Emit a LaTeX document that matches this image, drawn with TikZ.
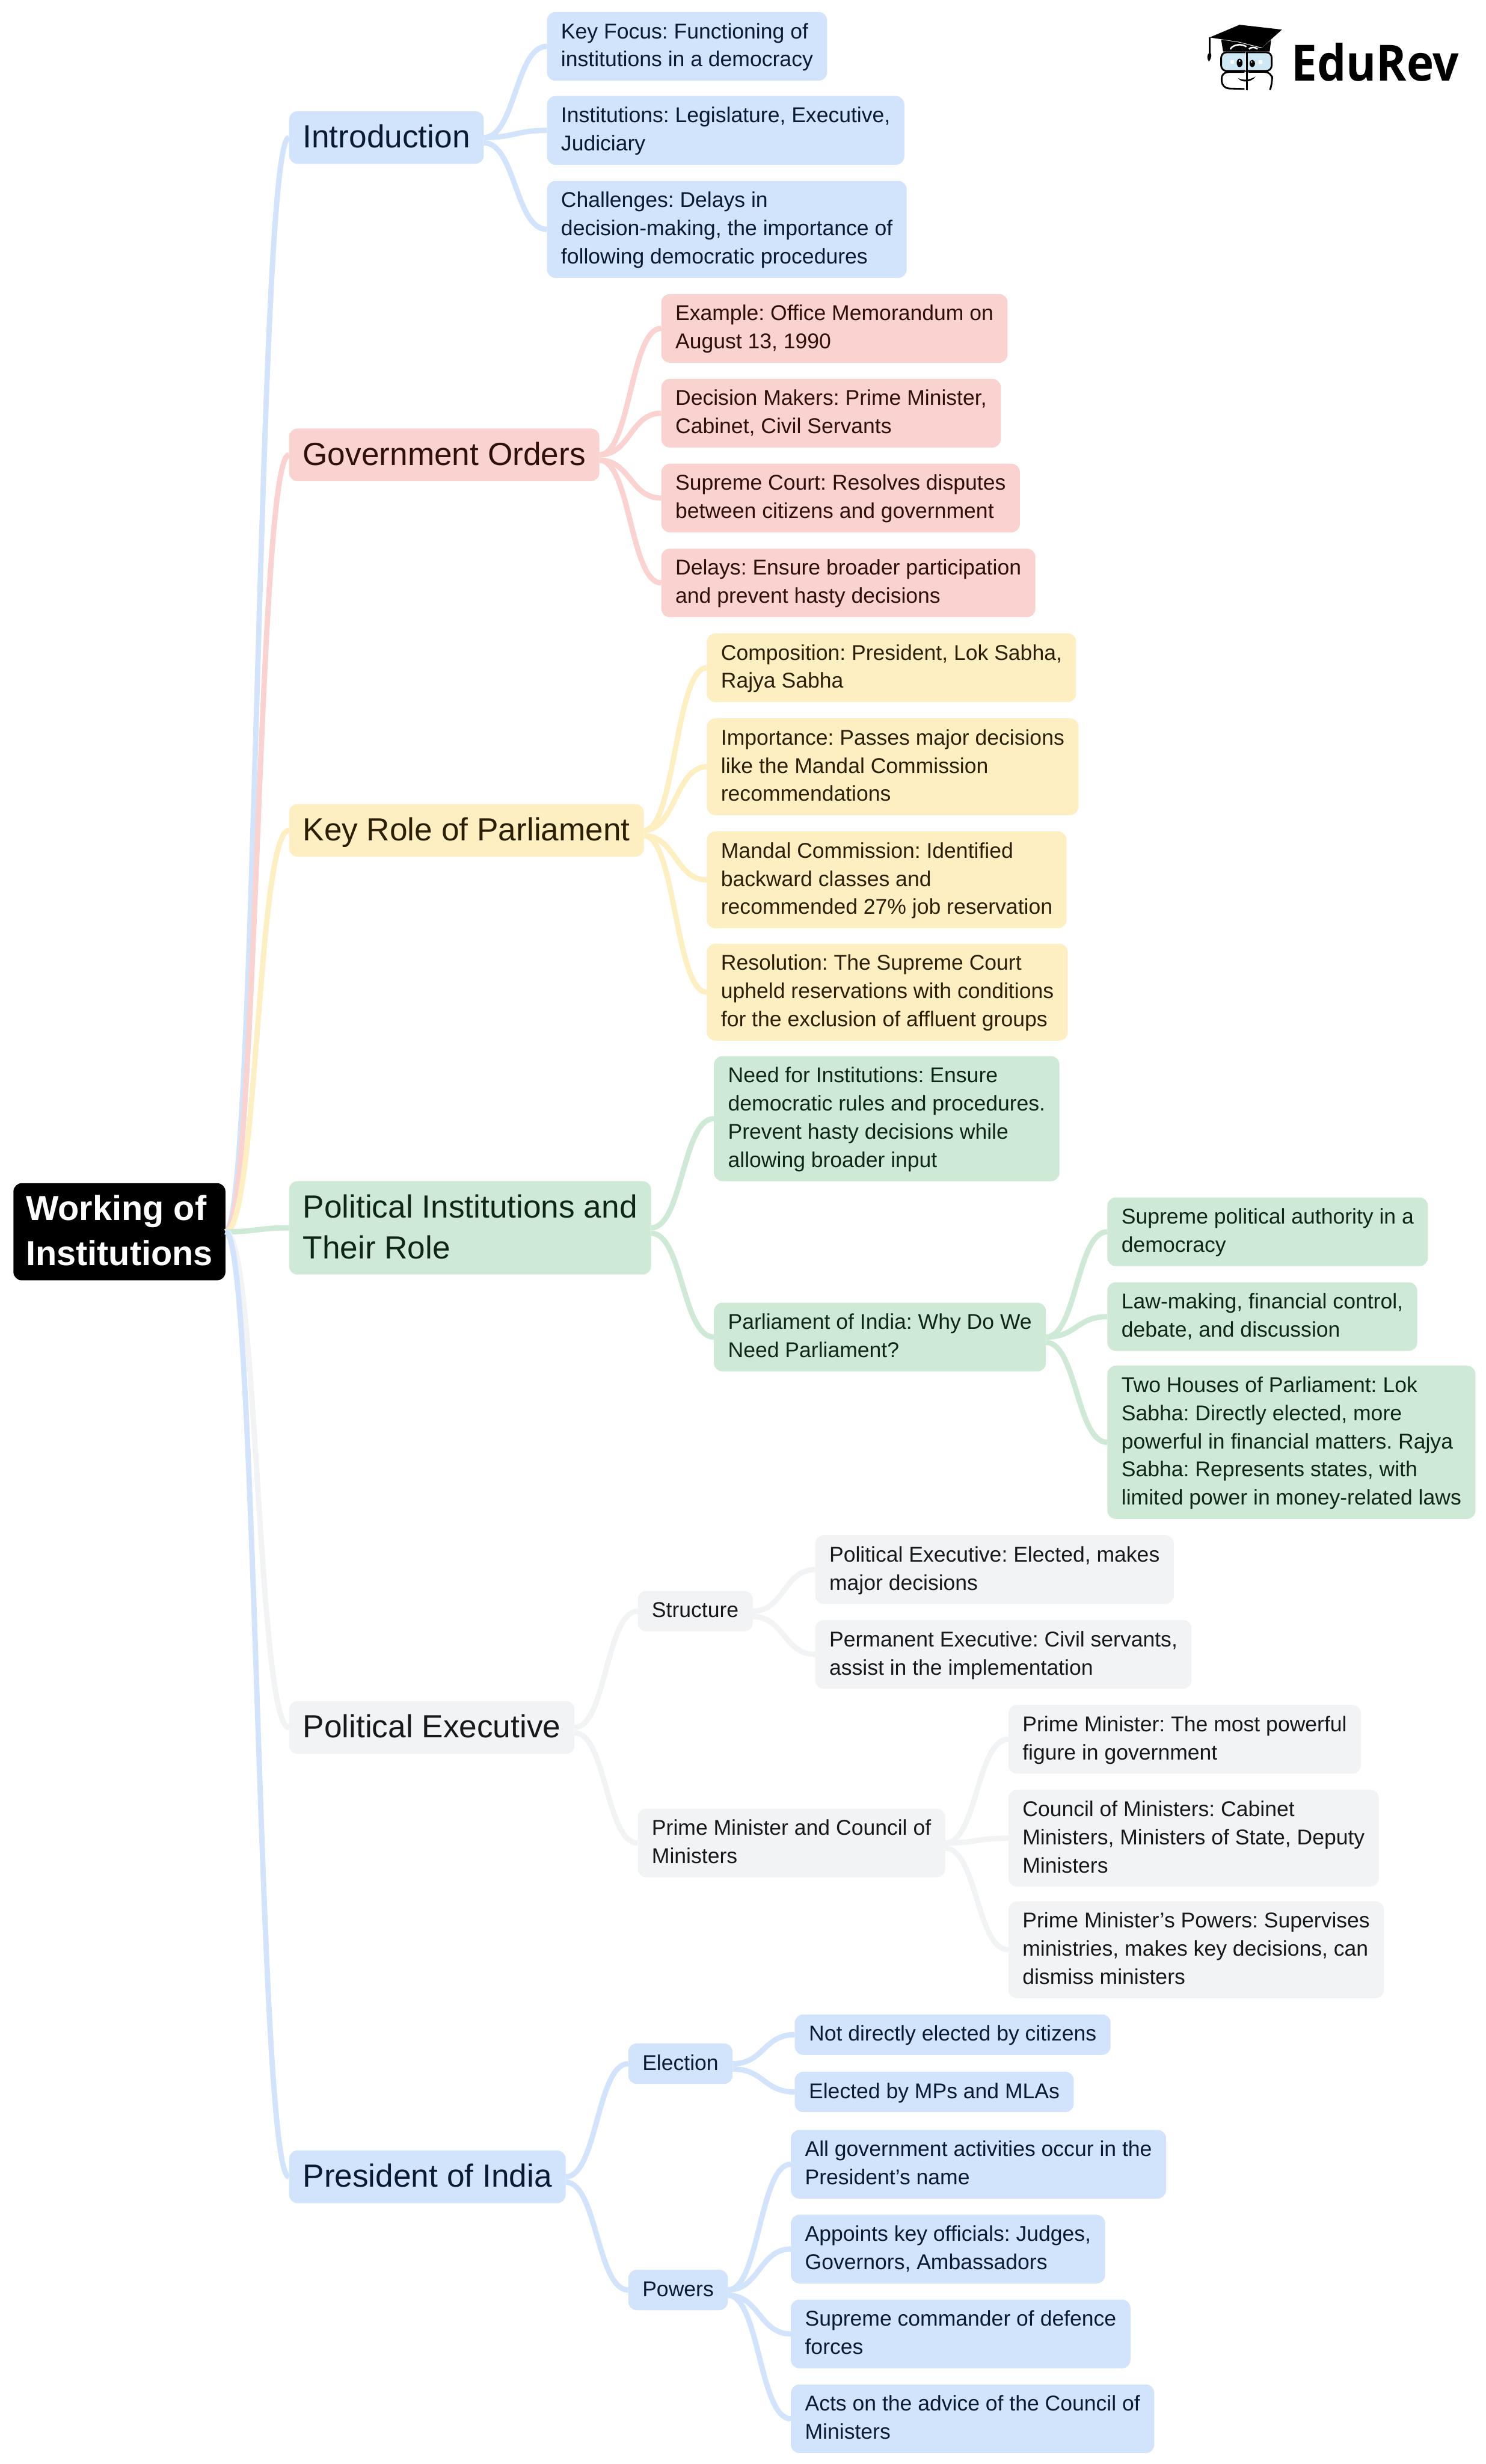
\documentclass[tikz,border=0pt]{standalone}
\usepackage{fontspec}
\setmainfont{Liberation Sans}
\newfontfamily\logofont{Open Sans}
\usetikzlibrary{calc}
\AtBeginDocument{\frenchspacing}
\definecolor{bluefill}{HTML}{D2E3FC}
\definecolor{bluetext}{HTML}{0A1A33}
\definecolor{redfill}{HTML}{FAD2CF}
\definecolor{redtext}{HTML}{2D0F0C}
\definecolor{yelfill}{HTML}{FEEFC3}
\definecolor{yeltext}{HTML}{2B1F03}
\definecolor{grnfill}{HTML}{CEEAD6}
\definecolor{grntext}{HTML}{0D2615}
\definecolor{gryfill}{HTML}{F1F3F4}
\definecolor{grytext}{HTML}{17181A}
\definecolor{lenscol}{HTML}{CFE8F5}
% line struts: they fix the height of the first and last line of a box
\newcommand{\SL}{\vrule height 53.5pt depth 20.5pt width 0pt\relax}
\newcommand{\ST}{\vrule height 80.5pt depth 26.5pt width 0pt\relax}
\newcommand{\SR}{\vrule height 88pt depth 30pt width 0pt\relax}
\tikzset{
  basebox/.style={rectangle,rounded corners=22pt,align=left,anchor=west},
  leaf/.style={basebox,inner xsep=37pt,inner ysep=16pt,font=\fontsize{56.1}{74}\selectfont},
  topic/.style={basebox,inner xsep=36pt,inner ysep=15.5pt,font=\fontsize{84}{107}\selectfont},
  rootbox/.style={basebox,fill=black,text=white,inner xsep=33pt,inner ysep=9.5pt,font=\fontsize{91}{118}\selectfont\bfseries},
  bl/.style={fill=bluefill,text=bluetext},
  rd/.style={fill=redfill,text=redtext},
  yl/.style={fill=yelfill,text=yeltext},
  gn/.style={fill=grnfill,text=grntext},
  gy/.style={fill=gryfill,text=grytext},
  link/.style={line width=14pt}
}
\newcommand{\conn}[3]{\draw[link,#1] let \p1=(#2.east),\p2=(#3.west),\n1={(\x1+\x2)/2} in (\p1) .. controls (\n1,\y1) and (\n1,\y2) .. (\p2);}
% a branch to a child below its parent leaves the parent one line width lower
\newcommand{\connD}[3]{\draw[link,#1] let \p1=([yshift=-14pt]#2.east),\p2=(#3.west),\n1={(\x1+\x2)/2} in (\p1) .. controls (\n1,\y1) and (\n1,\y2) .. (\p2);}
\begin{document}
\begin{tikzpicture}[x=4.12156pt,y=-4.12156pt]
\fill[white] (0,0) rectangle (946,1568.3);
\useasboundingbox (0,0) rectangle (946,1568.3);

\node[rootbox] (root) at (8.5,784) {\SR Working of\\Institutions\SR};

\node[topic,bl] (intro) at (184,87.5) {\ST Introduction\ST};
\node[topic,rd] (gov) at (184,289.5) {\ST Government Orders\ST};
\node[topic,yl] (parl) at (184,528.5) {\ST Key Role of Parliament\ST};
\node[topic,gn] (pol) at (184,781.5) {\ST Political Institutions and\\Their Role\ST};
\node[topic,gy] (exec) at (184,1099.5) {\ST Political Executive\ST};
\node[topic,bl] (pres) at (184,1385.5) {\ST President of India\ST};

\node[leaf,bl] (i1) at (348.2,29.5) {\SL Key Focus: Functioning of\\institutions in a democracy\SL};
\node[leaf,bl] (i2) at (348.2,83) {\SL Institutions: Legislature, Executive,\\Judiciary\SL};
\node[leaf,bl] (i3) at (348.2,146) {\SL Challenges: Delays in\\decision-making, the importance of\\following democratic procedures\SL};

\node[leaf,rd] (g1) at (421,209) {\SL Example: Office Memorandum on\\August 13, 1990\SL};
\node[leaf,rd] (g2) at (421,263) {\SL Decision Makers: Prime Minister,\\Cabinet, Civil Servants\SL};
\node[leaf,rd] (g3) at (421,317) {\SL Supreme Court: Resolves disputes\\between citizens and government\SL};
\node[leaf,rd] (g4) at (421,371) {\SL Delays: Ensure broader participation\\and prevent hasty decisions\SL};

\node[leaf,yl] (k1) at (450,425) {\SL Composition: President, Lok Sabha,\\Rajya Sabha\SL};
\node[leaf,yl] (k2) at (450,488) {\SL Importance: Passes major decisions\\like the Mandal Commission\\recommendations\SL};
\node[leaf,yl] (k3) at (450,560) {\SL Mandal Commission: Identified\\backward classes and\\recommended 27\% job reservation\SL};
\node[leaf,yl] (k4) at (450,631.5) {\SL Resolution: The Supreme Court\\upheld reservations with conditions\\for the exclusion of affluent groups\SL};

\node[leaf,gn] (p1) at (454.5,712) {\SL Need for Institutions: Ensure\\democratic rules and procedures.\\Prevent hasty decisions while\\allowing broader input\SL};
\node[leaf,gn] (p2) at (454.5,851) {\SL Parliament of India: Why Do We\\Need Parliament?\SL};
\node[leaf,gn] (p21) at (705,784) {\SL Supreme political authority in a\\democracy\SL};
\node[leaf,gn] (p22) at (705,838) {\SL Law-making, financial control,\\debate, and discussion\SL};
\node[leaf,gn] (p23) at (705,918) {\SL Two Houses of Parliament: Lok\\Sabha: Directly elected, more\\powerful in financial matters. Rajya\\Sabha: Represents states, with\\limited power in money-related laws\SL};

\node[leaf,gy] (e1) at (406,1025.5) {\SL Structure\SL};
\node[leaf,gy] (e2) at (406,1173) {\SL Prime Minister and Council of\\Ministers\SL};
\node[leaf,gy] (e11) at (519,999) {\SL Political Executive: Elected, makes\\major decisions\SL};
\node[leaf,gy] (e12) at (519,1053) {\SL Permanent Executive: Civil servants,\\assist in the implementation\SL};
\node[leaf,gy] (e21) at (642,1107) {\SL Prime Minister: The most powerful\\figure in government\SL};
\node[leaf,gy] (e22) at (642,1170) {\SL Council of Ministers: Cabinet\\Ministers, Ministers of State, Deputy\\Ministers\SL};
\node[leaf,gy] (e23) at (642,1241) {\SL Prime Minister’s Powers: Supervises\\ministries, makes key decisions, can\\dismiss ministers\SL};

\node[leaf,bl] (r1) at (400,1313.5) {\SL Election\SL};
\node[leaf,bl] (r2) at (400,1457.5) {\SL Powers\SL};
\node[leaf,bl] (r11) at (506,1295) {\SL Not directly elected by citizens\SL};
\node[leaf,bl] (r12) at (506,1331.5) {\SL Elected by MPs and MLAs\SL};
\node[leaf,bl] (r21) at (503.5,1377.5) {\SL All government activities occur in the\\President’s name\SL};
\node[leaf,bl] (r22) at (503.5,1431.5) {\SL Appoints key officials: Judges,\\Governors, Ambassadors\SL};
\node[leaf,bl] (r23) at (503.5,1485.5) {\SL Supreme commander of defence\\forces\SL};
\node[leaf,bl] (r24) at (503.5,1539.5) {\SL Acts on the advice of the Council of\\Ministers\SL};

\conn{bluefill}{root}{intro}
\conn{redfill}{root}{gov}
\conn{yelfill}{root}{parl}
\conn{grnfill}{root}{pol}
\conn{gryfill}{root}{exec}
\conn{bluefill}{root}{pres}
\conn{bluefill}{intro}{i1}
\conn{bluefill}{intro}{i2}
\connD{bluefill}{intro}{i3}
\conn{redfill}{gov}{g1}
\conn{redfill}{gov}{g2}
\connD{redfill}{gov}{g3}
\connD{redfill}{gov}{g4}
\conn{yelfill}{parl}{k1}
\conn{yelfill}{parl}{k2}
\connD{yelfill}{parl}{k3}
\connD{yelfill}{parl}{k4}
\conn{grnfill}{pol}{p1}
\connD{grnfill}{pol}{p2}
\conn{grnfill}{p2}{p21}
\conn{grnfill}{p2}{p22}
\connD{grnfill}{p2}{p23}
\conn{gryfill}{exec}{e1}
\connD{gryfill}{exec}{e2}
\conn{gryfill}{e1}{e11}
\connD{gryfill}{e1}{e12}
\conn{gryfill}{e2}{e21}
\conn{gryfill}{e2}{e22}
\connD{gryfill}{e2}{e23}
\conn{bluefill}{pres}{r1}
\connD{bluefill}{pres}{r2}
\conn{bluefill}{r1}{r11}
\connD{bluefill}{r1}{r12}
\conn{bluefill}{r2}{r21}
\conn{bluefill}{r2}{r22}
\connD{bluefill}{r2}{r23}
\connD{bluefill}{r2}{r24}

% logo, traced in crop coordinates
\begin{scope}[shift={(3100pt,-30pt)},x=0.5096pt,y=-0.3333pt]
  \fill[black] (145,205) -- (300,105) -- (518,143) -- (415,285) -- (300,240) -- cycle;
  \fill[black] (205,222) -- (300,245) -- (412,290) -- (462,225) -- (455,315) -- (215,315) -- cycle;
  \draw[white,line width=4pt] (252,297) .. controls (265,260) and (310,250) .. (335,278);
  \draw[white,line width=4pt] (348,296) .. controls (360,278) and (380,280) .. (392,296);
  \draw[black,line width=5pt] (145,205) -- (145,325);
  \fill[black] (147,320) .. controls (160,340) and (155,365) .. (142,395) .. controls (130,370) and (130,340) .. cycle;
  \draw[black,line width=4.5pt,fill=lenscol,rounded corners=14pt] (205,322) rectangle (465,468);
  \draw[black,line width=4.5pt] (338,318) -- (338,622);
  \draw[white,line width=2pt] (328,318) -- (328,468);
  \fill[black] (300,405) ellipse [x radius=15,y radius=33];
  \fill[black] (365,410) ellipse [x radius=14,y radius=29];
  \fill[white] (300,390) ellipse [x radius=5,y radius=8];
  \fill[white] (362,398) ellipse [x radius=4,y radius=6];
  \fill[white] (252,382) rectangle (270,412);
  \fill[white] (398,382) rectangle (418,412);
  \draw[black,line width=4.5pt,rounded corners=18pt] (325,610) -- (210,605) -- (205,478) -- (325,476);
  \draw[black,line width=4.5pt,rounded corners=18pt] (345,476) -- (465,476) -- (470,560) -- (456,618);
  \fill[black] (292,525) .. controls (320,545) and (350,540) .. (382,513) .. controls (360,560) and (310,565) .. cycle;
  \node[inner sep=0pt,anchor=base west,xscale=0.92,font=\logofont\fontsize{131}{131}\selectfont\bfseries,text=black] (logo) at (566,545) {EduRev};
\end{scope}
\end{tikzpicture}
\end{document}
